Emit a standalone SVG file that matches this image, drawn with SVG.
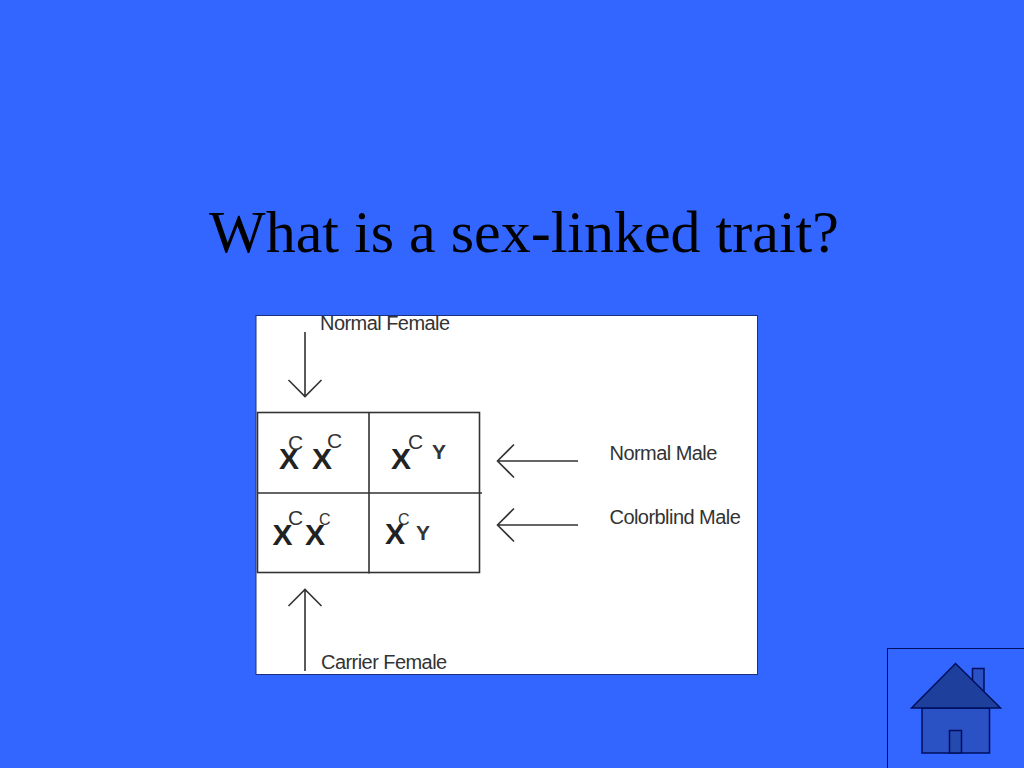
<svg xmlns="http://www.w3.org/2000/svg" width="1024" height="768" viewBox="0 0 1024 768">
<style>
.t{font-family:"Liberation Sans",Arial,sans-serif;fill:#333}
.l{font-size:20px;letter-spacing:-.55px}
.x{font-size:30px;font-weight:bold;fill:#222}
.c{font-size:21px;fill:#333}
.y{font-size:21px;font-weight:bold;fill:#333}
.ln{stroke:#333;stroke-width:1.6;fill:none}
.g{stroke:#333;stroke-width:1.6;fill:none}
.h{stroke:#000f5c;stroke-width:1.5}
</style>
<rect width="1024" height="768" fill="#3366ff"/>
<g id="title"><text x="524" y="252" text-anchor="middle" font-family="'Liberation Serif','Times New Roman',serif" font-size="60" fill="#000">What is a sex-linked trait?</text></g>
<g id="picture">
<rect x="256" y="315.500" width="501.500" height="359" fill="#fff"/>
<rect x="256" y="315.500" width="501.500" height="359" fill="none" stroke="#1a2f80" stroke-width="1"/>
</g>
<g id="grid">
<rect class="g" x="257.500" y="412.500" width="222" height="160"/>
<path class="g" d="M369 412.500V573.500M257.500 493H482"/>
</g>
<g id="connectors">
<path class="ln" d="M305 332V396M288.500 380L305 396.500L321.500 380"/>
<path class="ln" d="M305 671V590M288.500 606L305 589.500L321.500 606"/>
<path class="ln" d="M578 461H497.500M514 444.500L497.500 461L514 477.500"/>
<path class="ln" d="M578 525H497.500M514 508.500L497.500 525L514 541.500"/>
</g>
<g id="label-normal-female"><text class="t l" x="320" y="330">Normal Female</text></g>
<g id="label-normal-male"><text class="t l" x="609.500" y="459.500">Normal Male</text></g>
<g id="label-colorblind-male"><text class="t l" x="609.500" y="523.500">Colorblind Male</text></g>
<g id="label-carrier-female"><text class="t l" x="321" y="668.500">Carrier Female</text></g>
<g id="cell-1">
<text class="t x" x="279" y="469">X</text><text class="t c" x="288" y="450">C</text>
<text class="t x" x="312" y="469">X</text><text class="t c" x="327" y="448">C</text>
</g>
<g id="cell-2">
<text class="t x" x="391" y="469">X</text><text class="t c" x="408" y="449">C</text>
<text class="t y" x="432" y="459">Y</text>
</g>
<g id="cell-3">
<text class="t x" x="272.500" y="545">X</text><text class="t c" x="288" y="525">C</text>
<text class="t x" x="305" y="545">X</text><text class="t c" x="319" y="525" font-size="16" style="font-size:16px">C</text>
</g>
<g id="cell-4">
<text class="t x" x="385" y="544">X</text><text class="t c" x="398" y="525" style="font-size:16px">C</text>
<text class="t y" x="416" y="540">Y</text>
</g>
<g id="home-button">
<rect x="887.500" y="648.500" width="137" height="120" fill="#3366ff" stroke="#000f5c" stroke-width="1"/>
<rect class="h" x="972.500" y="668.500" width="11.500" height="26" fill="#2a52c4"/>
<rect class="h" x="922" y="708" width="67.500" height="45" fill="#2a52c4"/>
<rect class="h" x="949.500" y="730.500" width="12" height="22.500" fill="#244ab0"/>
<path class="h" d="M955.500 663.500L1000.500 708H911.500Z" fill="#1f3f9c"/>
</g>
</svg>
